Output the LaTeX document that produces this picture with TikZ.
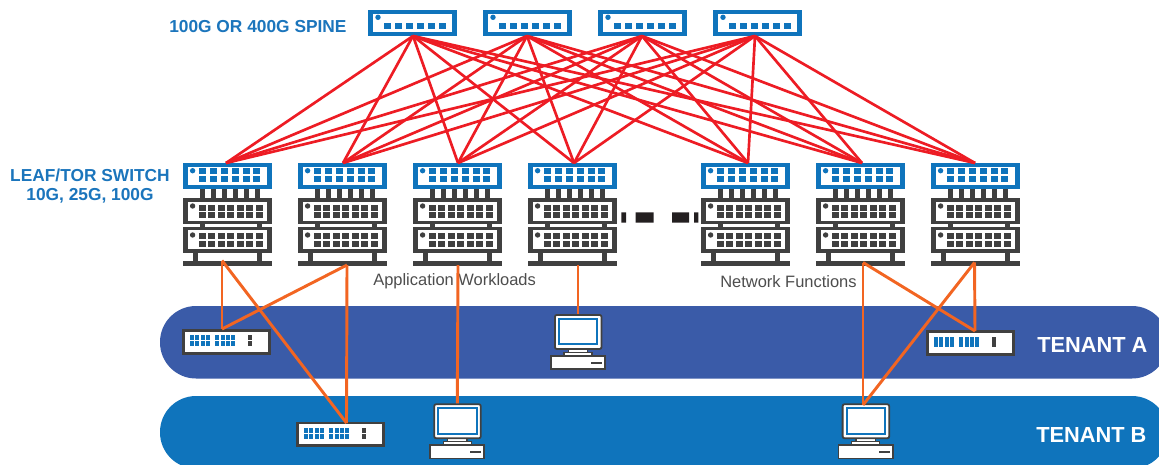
\documentclass[tikz,border=0pt]{standalone}
\usepackage{fontspec}
\setmainfont{Liberation Sans}
\definecolor{bandA}{HTML}{3A5BA8}
\definecolor{bandB}{HTML}{0F74BC}
\definecolor{swblue}{HTML}{0F74BC}
\definecolor{labelblue}{HTML}{1B75BC}
\definecolor{rackgrey}{HTML}{404040}
\definecolor{meshred}{HTML}{ED1C24}
\definecolor{linkorange}{HTML}{F26522}
\definecolor{dashdark}{HTML}{231F20}
\definecolor{capgrey}{HTML}{4D4D4D}
\tikzset{
  meshlink/.style={draw=meshred,line width=2pt},
  tenantlink/.style={draw=linkorange,line width=2.2pt},
  tenantband/.style={rounded corners=27pt},
  tenantname/.style={text=white,font=\fontsize{16.35}{18}\selectfont\bfseries,inner sep=0pt},
  bluelabel/.style={text=labelblue,font=\fontsize{13}{14.3}\selectfont\bfseries,inner sep=0pt,align=center},
  caption/.style={text=capgrey,font=\fontsize{12.35}{14}\selectfont,inner sep=0pt},
}
% spine switch: origin = left edge
\newcommand{\spineswitch}[3]{%
  \begin{scope}[shift={(#2,0)}]
    \fill[swblue] (0,10) rectangle (89,36);
    \fill[white] (5.3,14) rectangle (84,32.3);
    \fill[swblue] (10,17.3) circle[radius=2.7];
    \foreach \px in {16,27,38,49,60,71}
      \fill[swblue] (\px,23) rectangle +(7,6);
    \coordinate (#1) at (#3,36);
  \end{scope}}
% leaf rack: origin = left edge
\newcommand{\leafrack}[3]{%
  \begin{scope}[shift={(#2,0)}]
    \fill[rackgrey] (0,261) rectangle (89,265.7);
    \foreach \px in {10.3,74} \fill[rackgrey] (\px,252) rectangle +(4.5,10);
    \foreach \px in {17,74} \fill[rackgrey] (\px,223) rectangle +(5,5);
    \foreach \px in {17,28,39,50,61,72} \fill[rackgrey] (\px,188) rectangle +(5,11);
    \fill[swblue] (0,163) rectangle (89,189);
    \fill[white] (4.7,166.8) rectangle (84.3,185);
    \fill[swblue] (9.6,170.7) circle[radius=2.7];
    \foreach \px in {16,27,38,49,60,70}
      \foreach \py in {167.8,175.8} \fill[swblue] (\px,\py) rectangle +(6.8,6.4);
    \foreach \by/\ty/\iy/\jy/\dy/\ra/\rb in {198.3/224/201.7/220.7/206/205/212.3, 227.3/252.7/230.3/249.3/235/233.4/240.8}{
      \fill[rackgrey] (0,\by) rectangle (89,\ty);
      \fill[white] (4.7,\iy) rectangle (84.3,\jy);
      \fill[rackgrey] (9.6,\dy) circle[radius=2.7];
      \foreach \px in {16,24.7,35,44,54,63,73}
        \foreach \py in {\ra,\rb} \fill[rackgrey] (\px,\py) rectangle +(7,6);
    }
    \coordinate (#1up) at (#3,163);
  \end{scope}}
% small tenant switch; origin = top left corner; #4 first row, #5 row step
\newcommand{\tenantswitch}[5]{%
  \begin{scope}[shift={(#2,#3)}]
    \fill[rackgrey] (0,0) rectangle (89,25.5);
    \fill[white] (2.6,2.6) rectangle (86.4,22.7);
    \foreach \px in {8,13,19,24,33,38.5,44,49} {
      \fill[swblue] (\px,#4) rectangle +(4.4,5.2);
      \fill[swblue] (\px,#4+#5) rectangle +(4.4,5.2);
    }
    \fill[rackgrey] (66,#4) rectangle +(4,5.2);
    \fill[rackgrey] (66,#4+#5) rectangle +(4,5.2);
    \coordinate (#1) at (40,0);
  \end{scope}}
% computer; origin = top left corner of the monitor
\newcommand{\computer}[3]{%
  \begin{scope}[shift={(#2,#3)}]
    \draw[rackgrey,fill=white,line width=1pt] (14.3,35) rectangle (33.7,38.3);
    \draw[rackgrey,fill=white,line width=1pt] (10,38.3) rectangle (38,41.7);
    \draw[rackgrey,fill=white,line width=1.35pt,rounded corners=1.5pt] (0.9,0.9) rectangle (47.5,35);
    \draw[swblue,fill=white,line width=1.5pt] (5,5) rectangle (43.2,30.2);
    \draw[rackgrey,fill=white,line width=1.35pt] (-3.2,41.9) rectangle (51,55.2);
    \fill[rackgrey] (37,48) rectangle +(11,1.8);
    \coordinate (#1) at (24,0);
  \end{scope}}
\begin{document}
\begin{tikzpicture}[x=0.75pt,y=-0.75pt]
\useasboundingbox (0,0) rectangle (1159,464);
\begin{scope}
  \clip (0,0) rectangle (1159,464);
  \fill[bandA,tenantband] (160,306) rectangle (1168,378.5);
  \fill[bandB,tenantband] (160,396) rectangle (1168,468.5);
\end{scope}
\node[tenantname,anchor=west] (tenantA) at (1037,344.5) {TENANT A};
\node[tenantname,anchor=west] (tenantB) at (1036,434.5) {TENANT B};
\node[bluelabel,anchor=west] (spinelabel) at (169,27) {100G OR 400G SPINE};
\node[bluelabel,anchor=center] (leaflabel) at (90,186.5) {LEAF/TOR SWITCH\\10G, 25G, 100G};
\node[caption,anchor=west] (apps) at (373,281.5) {Application Workloads};
\node[caption,anchor=west] (nfs) at (720,281.5) {Network Functions};
\spineswitch{s1}{368}{45}
\spineswitch{s2}{483}{44}
\spineswitch{s3}{598}{44}
\spineswitch{s4}{713}{42}
\leafrack{l1}{183}{43}
\leafrack{l2}{298}{45}
\leafrack{l3}{413}{45}
\leafrack{l4}{528}{46}
\leafrack{l5}{701}{47}
\leafrack{l6}{816}{46}
\leafrack{l7}{931}{44}
\tenantswitch{swA}{182}{329}{6}{6}
\tenantswitch{swB}{296}{421.5}{6}{6.4}
\tenantswitch{swC}{926}{330}{6.6}{5.2}
\computer{pcA}{554}{314}
\computer{pcB}{433.3}{403.3}
\computer{pcC}{841.7}{403.3}
\fill[dashdark] (621.3,212.3) rectangle (626,222.7)
  (635.7,212.3) rectangle (653.7,222.7)
  (672,212.3) rectangle (689,222.7)
  (694,212.3) rectangle (698.3,222.7);
\foreach \s in {s1,s2,s3,s4}
  \foreach \l in {l1,l2,l3,l4,l5,l6,l7}
    \draw[meshlink] (\s) -- (\l up);
\coordinate (d1) at (222,260.5);
\coordinate (d2) at (347,265);
\coordinate (d3) at (458,265);
\coordinate (d4) at (578,265);
\coordinate (d6) at (863,262.5);
\coordinate (d7) at (974.5,262.5);
\coordinate (swAe) at (222,329);
\coordinate (swBe) at (346.5,423);
\coordinate (swCe) at (975,331);
\coordinate (pcCe) at (863,405);
\draw[tenantlink] (d1) -- (swAe);
\draw[tenantlink] (d1) -- (swBe);
\draw[tenantlink] (d2) -- (swAe);
\draw[tenantlink] (d2) -- (swBe);
\draw[tenantlink] (d3) -- (pcB);
\draw[tenantlink] (d4) -- (pcA);
\draw[tenantlink] (d6) -- (pcCe);
\draw[tenantlink] (d6) -- (swCe);
\draw[tenantlink] (d7) -- (swCe);
\draw[tenantlink] (d7) -- (pcCe);
\end{tikzpicture}
\end{document}
